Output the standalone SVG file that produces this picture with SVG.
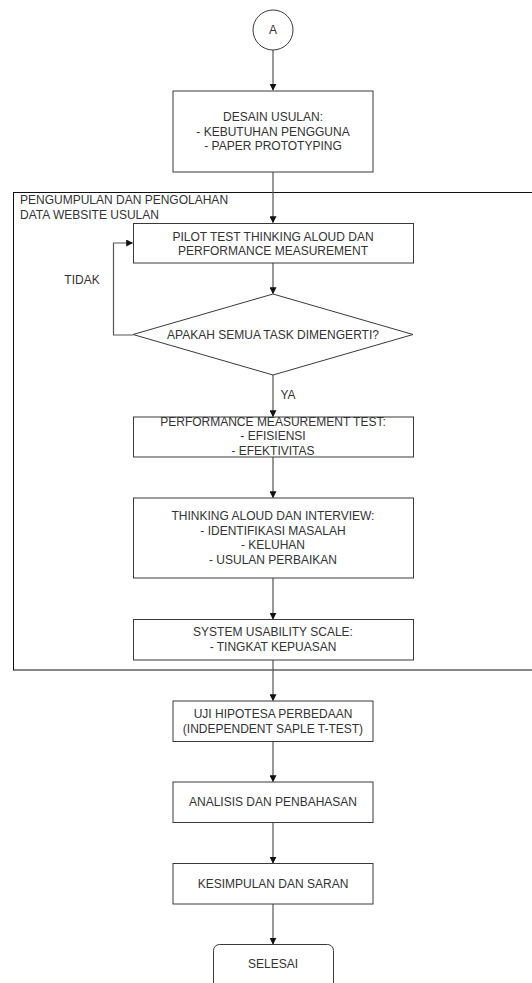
<svg xmlns="http://www.w3.org/2000/svg" width="532" height="983" viewBox="0 0 532 983">
<defs>
<marker id="arr" viewBox="0 0 10 10" refX="9" refY="5" markerWidth="7" markerHeight="7" markerUnits="userSpaceOnUse" orient="auto">
<path d="M0,0 L10,5 L0,10 Z" fill="#111"/>
</marker>
</defs>
<style>
.box{fill:#fff;stroke:#3a3a3a;stroke-width:1}
.cont{fill:none;stroke:#111;stroke-width:1}
.t{font-family:"Liberation Sans",Arial,sans-serif;font-size:12px;fill:#333;text-anchor:middle;dominant-baseline:central}
.tl{text-anchor:start}
.c{fill:none;stroke:#555;stroke-width:1.2}
</style>
<rect width="532" height="983" fill="#fff"/>
<g id="container">
<rect class="cont" x="13.5" y="192.5" width="530" height="477.5"/>
<text class="t tl" x="20" y="200">PENGUMPULAN DAN PENGOLAHAN</text>
<text class="t tl" x="20" y="214.5">DATA WEBSITE USULAN</text>
</g>
<g id="connectors">
<line class="c" x1="273" y1="50" x2="273" y2="90" marker-end="url(#arr)"/>
<line class="c" x1="273" y1="172" x2="273" y2="222.5" marker-end="url(#arr)"/>
<line class="c" x1="273" y1="263" x2="273" y2="293.5" marker-end="url(#arr)"/>
<polyline class="c" points="133,335 113.5,335 113.5,243 132.5,243" marker-end="url(#arr)"/>
<line class="c" x1="273" y1="375" x2="273" y2="416.5" marker-end="url(#arr)"/>
<line class="c" x1="273" y1="457" x2="273" y2="497.5" marker-end="url(#arr)"/>
<line class="c" x1="273" y1="578" x2="273" y2="619" marker-end="url(#arr)"/>
<line class="c" x1="273" y1="660" x2="273" y2="700.5" marker-end="url(#arr)"/>
<line class="c" x1="273" y1="741.5" x2="273" y2="781.5" marker-end="url(#arr)"/>
<line class="c" x1="273" y1="822.5" x2="273" y2="863" marker-end="url(#arr)"/>
<line class="c" x1="273" y1="904" x2="273" y2="944" marker-end="url(#arr)"/>
<text class="t" x="82" y="280">TIDAK</text>
<text class="t" x="288" y="395">YA</text>
</g>
<g id="start">
<circle class="box" cx="273" cy="30" r="20"/>
<text class="t" x="273" y="30">A</text>
</g>
<g id="desain">
<rect class="box" x="173" y="91" width="200" height="81"/>
<text class="t" x="273" y="117">DESAIN USULAN:</text>
<text class="t" x="273" y="131.5">- KEBUTUHAN PENGGUNA</text>
<text class="t" x="273" y="146">- PAPER PROTOTYPING</text>
</g>
<g id="pilot">
<rect class="box" x="133.5" y="223.5" width="280" height="39.5"/>
<text class="t" x="273" y="236.5">PILOT TEST THINKING ALOUD DAN</text>
<text class="t" x="273" y="250.5">PERFORMANCE MEASUREMENT</text>
</g>
<g id="decision">
<polygon class="box" points="273,294 413,334.5 273,375 133,334.5"/>
<text class="t" x="273" y="335">APAKAH SEMUA TASK DIMENGERTI?</text>
</g>
<g id="performance">
<rect class="box" x="133.5" y="417" width="280" height="40"/>
<text class="t" x="273" y="421.5">PERFORMANCE MEASUREMENT TEST:</text>
<text class="t" x="273" y="436">- EFISIENSI</text>
<text class="t" x="273" y="450.5">- EFEKTIVITAS</text>
</g>
<g id="thinking">
<rect class="box" x="133.5" y="498" width="280" height="80"/>
<text class="t" x="273" y="516">THINKING ALOUD DAN INTERVIEW:</text>
<text class="t" x="273" y="530.5">- IDENTIFIKASI MASALAH</text>
<text class="t" x="273" y="545">- KELUHAN</text>
<text class="t" x="273" y="559.5">- USULAN PERBAIKAN</text>
</g>
<g id="sus">
<rect class="box" x="133.5" y="619.5" width="280" height="40.5"/>
<text class="t" x="273" y="632">SYSTEM USABILITY SCALE:</text>
<text class="t" x="273" y="647">- TINGKAT KEPUASAN</text>
</g>
<g id="uji">
<rect class="box" x="173" y="701" width="200" height="40.5"/>
<text class="t" x="273" y="713.5">UJI HIPOTESA PERBEDAAN</text>
<text class="t" x="273" y="728.5">(INDEPENDENT SAPLE T-TEST)</text>
</g>
<g id="analisis">
<rect class="box" x="173" y="782" width="200" height="40.5"/>
<text class="t" x="273" y="802">ANALISIS DAN PENBAHASAN</text>
</g>
<g id="kesimpulan">
<rect class="box" x="173" y="863.5" width="200" height="40.5"/>
<text class="t" x="273" y="883.5">KESIMPULAN DAN SARAN</text>
</g>
<g id="selesai">
<rect class="box" x="213.5" y="944.5" width="120" height="60" rx="6"/>
<text class="t" x="273" y="964">SELESAI</text>
</g>
</svg>
